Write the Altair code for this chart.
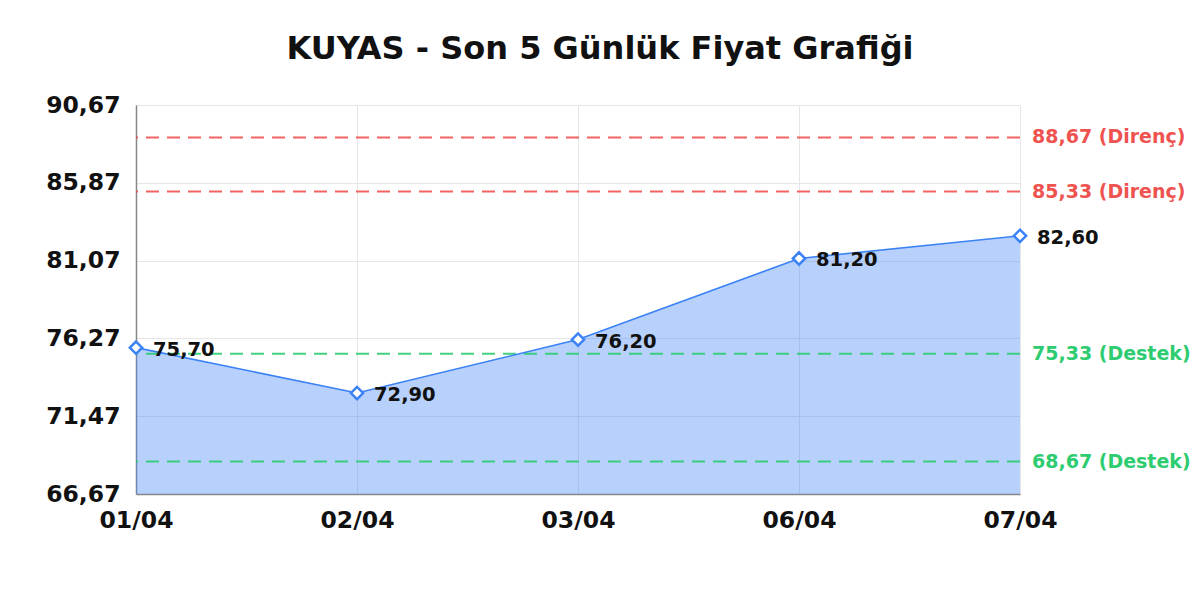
import altair as alt
import pandas as pd

dates = ["01/04", "02/04", "03/04", "06/04", "07/04"]
prices = [75.70, 72.90, 76.20, 81.20, 82.60]
y_ticks = [66.67, 71.47, 76.27, 81.07, 85.87, 90.67]
res_levels = [88.67, 85.33]
res_labels = ["88,67 (Direnç)", "85,33 (Direnç)"]
sup_levels = [75.33, 68.67]
sup_labels = ["75,33 (Destek)", "68,67 (Destek)"]

FONT = "DejaVu Sans"
BLUE = "#3b82f6"
RED = "#ef5350"
GREEN = "#2ecc71"
W, H = 884, 389

df = pd.DataFrame({"date": dates, "price": prices})
res_df = pd.DataFrame({"level": res_levels, "label": res_labels})
sup_df = pd.DataFrame({"level": sup_levels, "label": sup_labels})

yscale = alt.Scale(domain=[y_ticks[0], y_ticks[-1]], zero=False, nice=False)
xenc = alt.X("date:N", sort=dates, scale=alt.Scale(type="point", padding=0),
             axis=alt.Axis(title=None, labelAngle=0, labelPadding=14, grid=True))
yenc = alt.Y("price:Q", scale=yscale,
             axis=alt.Axis(title=None, values=y_ticks, labelPadding=16,
                           labelExpr="replace(format(datum.value, '.2f'), '.', ',')"))

base = alt.Chart(df).encode(x=xenc, y=yenc)

area = base.mark_area(color=BLUE, opacity=0.37, clip=True)
line = base.mark_line(color=BLUE, strokeWidth=1.6)
points = base.mark_point(shape="diamond", size=150, filled=True, fill="white",
                         stroke=BLUE, strokeWidth=2.5, opacity=1)
labels = base.mark_text(align="left", baseline="middle", dx=17, dy=2,
                        font=FONT, fontSize=19.5, fontWeight="bold", color="#111").transform_calculate(
    lbl="replace(format(datum.price, '.2f'), '.', ',')").encode(text="lbl:N")

def level_layers(d, color):
    rule = alt.Chart(d).mark_rule(color=color, strokeWidth=2, strokeDash=[13, 8], opacity=0.9).encode(
        y=alt.Y("level:Q", scale=yscale))
    txt = alt.Chart(d).mark_text(align="left", baseline="middle", font=FONT, fontSize=19,
                                 fontWeight="bold", color=color).encode(
        y=alt.Y("level:Q", scale=yscale), x=alt.value(W + 12), text="label:N")
    return rule, txt

r_rule, r_txt = level_layers(res_df, RED)
s_rule, s_txt = level_layers(sup_df, GREEN)

chart = alt.layer(area, r_rule, s_rule, line, points, labels, r_txt, s_txt).properties(
    width=W, height=H,
    title=alt.TitleParams("KUYAS - Son 5 Günlük Fiyat Grafiği", font=FONT, fontSize=32,
                          fontWeight="bold", color="#111", anchor="middle", dx=22, offset=27),
    autosize=alt.AutoSizeParams(type="none"),
    padding={"left": 128, "top": 97, "right": 172, "bottom": 98},
).configure_axis(
    labelFont=FONT, labelFontSize=23.5, labelFontWeight="bold", labelColor="#111",
    domainColor="#888", domainWidth=1.5, gridColor="#e6e6e6", ticks=False,
).configure_view(stroke="#e0e0e0")

chart.save("out.html", embed_options={"renderer": "svg", "actions": False})
